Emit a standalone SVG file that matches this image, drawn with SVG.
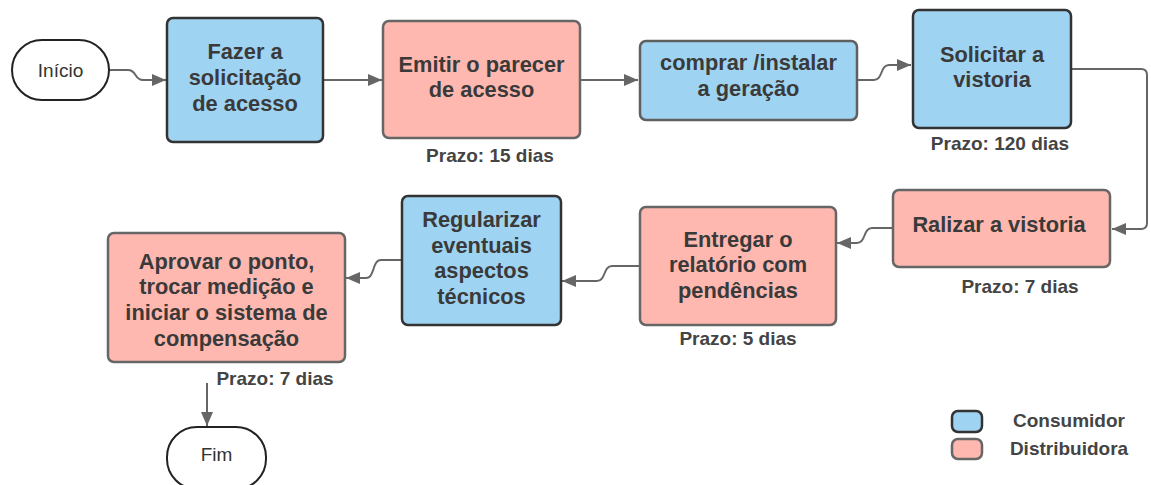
<svg xmlns="http://www.w3.org/2000/svg" width="1151" height="485" viewBox="0 0 1151 485">
<style>
.bg{fill:#ffffff}
.blue{fill:#9fd3f2;stroke:#333333;stroke-width:2.5}
.blue2{fill:#9fd3f2;stroke:#5f5f5f;stroke-width:2.5}
.pink{fill:#ffb8b0;stroke:#666666;stroke-width:2.5}
.term{fill:#ffffff;stroke:#222222;stroke-width:2}
.t{font-family:"Liberation Sans",Arial,sans-serif;font-weight:bold;font-size:21.8px;fill:#3a3a3a;text-anchor:middle}
.s{font-family:"Liberation Sans",Arial,sans-serif;font-weight:bold;font-size:19px;fill:#444444;text-anchor:middle}
.r{font-family:"Liberation Sans",Arial,sans-serif;font-size:19px;fill:#333333;text-anchor:middle}
.c{fill:none;stroke:#666666;stroke-width:2}
</style>
<defs>
<marker id="ah" markerUnits="userSpaceOnUse" markerWidth="14" markerHeight="12" refX="14" refY="6" orient="auto">
<path d="M0,0 L14,6 L0,12 z" fill="#666666"/>
</marker>
</defs>
<rect class="bg" x="0" y="0" width="1151" height="485"/>

<g id="connectors">
<path class="c" d="M109,70 H128 C137,70 134,80 143,80 H166" marker-end="url(#ah)"/>
<path class="c" d="M323,80 H382" marker-end="url(#ah)"/>
<path class="c" d="M580,80 H638" marker-end="url(#ah)"/>
<path class="c" d="M857,80 H874 C883,80 880,65 889,65 H911" marker-end="url(#ah)"/>
<path class="c" d="M1071,69 H1141 Q1147,69 1147,75 V223 Q1147,229 1141,229 H1112" marker-end="url(#ah)"/>
<path class="c" d="M893,228 H872 C863,228 866,243 857,243 H837" marker-end="url(#ah)"/>
<path class="c" d="M640,266 H612 C603,266 606,281 597,281 H562" marker-end="url(#ah)"/>
<path class="c" d="M402,260 H381 C372,260 375,278 366,278 H346" marker-end="url(#ah)"/>
<path class="c" d="M207,383 V426" marker-end="url(#ah)"/>
</g>

<g id="inicio">
<rect class="term" x="12" y="40" width="97" height="60" rx="30" ry="30"/>
<text class="r" x="60.5" y="77">Início</text>
</g>

<g id="fazer">
<rect class="blue" x="167" y="18" width="156" height="124" rx="6"/>
<text class="t" x="245" y="59">Fazer a</text>
<text class="t" x="245" y="85">solicitação</text>
<text class="t" x="245" y="111">de acesso</text>
</g>

<g id="emitir">
<rect class="pink" x="383" y="21" width="197" height="117" rx="6"/>
<text class="t" x="481.5" y="72">Emitir o parecer</text>
<text class="t" x="481.5" y="97">de acesso</text>
<text class="s" x="490" y="162">Prazo: 15 dias</text>
</g>

<g id="comprar">
<rect class="blue2" x="640" y="41" width="217" height="79" rx="6"/>
<text class="t" x="748.5" y="70">comprar /instalar</text>
<text class="t" x="748.5" y="96">a geração</text>
</g>

<g id="solicitar">
<rect class="blue" x="913" y="10" width="158" height="118" rx="6"/>
<text class="t" x="992" y="62">Solicitar a</text>
<text class="t" x="992" y="87">vistoria</text>
<text class="s" x="1000" y="150">Prazo: 120 dias</text>
</g>

<g id="ralizar">
<rect class="pink" x="893" y="190" width="217" height="77" rx="6"/>
<text class="t" x="999" y="232">Ralizar a vistoria</text>
<text class="s" x="1020" y="293">Prazo: 7 dias</text>
</g>

<g id="entregar">
<rect class="pink" x="640" y="207" width="196" height="118" rx="6"/>
<text class="t" x="738" y="247">Entregar o</text>
<text class="t" x="738" y="272">relatório com</text>
<text class="t" x="738" y="298">pendências</text>
<text class="s" x="738" y="345">Prazo: 5 dias</text>
</g>

<g id="regularizar">
<rect class="blue" x="402" y="196" width="159" height="129" rx="6"/>
<text class="t" x="481.5" y="227">Regularizar</text>
<text class="t" x="481.5" y="253">eventuais</text>
<text class="t" x="481.5" y="278">aspectos</text>
<text class="t" x="481.5" y="304">técnicos</text>
</g>

<g id="aprovar">
<rect class="pink" x="108" y="233" width="237" height="129" rx="6"/>
<text class="t" x="226.5" y="269">Aprovar o ponto,</text>
<text class="t" x="226.5" y="294">trocar medição e</text>
<text class="t" x="226.5" y="320">iniciar o sistema de</text>
<text class="t" x="226.5" y="346">compensação</text>
<text class="s" x="275" y="385">Prazo: 7 dias</text>
</g>

<g id="fim">
<rect class="term" x="167" y="427" width="99" height="62" rx="30" ry="30"/>
<text class="r" x="216.5" y="461">Fim</text>
</g>

<g id="legend">
<rect class="blue" x="952" y="411" width="30" height="21" rx="6"/>
<rect class="pink" x="952" y="439" width="30" height="20" rx="6"/>
<text class="s" x="1069" y="427">Consumidor</text>
<text class="s" x="1069" y="455">Distribuidora</text>
</g>
</svg>
